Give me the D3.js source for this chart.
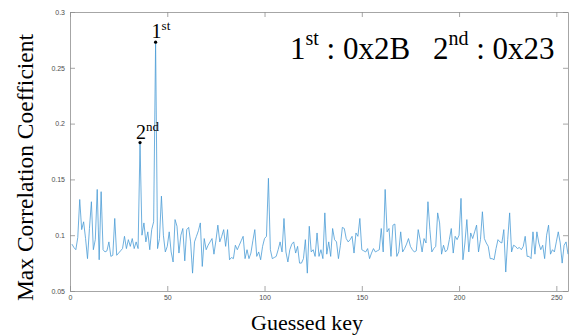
<!DOCTYPE html>
<meta charset="utf-8">

<!-- Load d3.js -->
<script src="https://d3js.org/d3.v7.min.js"></script>

<div id="my_dataviz"></div>

<style>
  body { margin: 0; background: white; }
  .tick text { font-family: "Liberation Sans", Arial, sans-serif; }
  .serif { font-family: "Liberation Serif", "Times New Roman", serif; fill: #000; }
</style>

<script>
  // key guesses 0..255 (plotted MATLAB style at index 1..256)
  var keys = d3.range(0, 256);

  // max correlation coefficient for every guessed key
  var maxCorr = [
    0.092, 0.089, 0.087, 0.098, 0.132, 0.105, 0.112, 0.097, 0.079, 0.106, 0.130, 0.087, 0.096, 0.141, 0.078, 0.139,
    0.087, 0.085, 0.086, 0.094, 0.081, 0.082, 0.115, 0.082, 0.084, 0.086, 0.088, 0.099, 0.088, 0.096, 0.090, 0.097,
    0.088, 0.094, 0.088, 0.183, 0.100, 0.111, 0.094, 0.103, 0.087, 0.105, 0.112, 0.273, 0.088, 0.097, 0.135, 0.100,
    0.085, 0.090, 0.103, 0.085, 0.076, 0.114, 0.108, 0.084, 0.100, 0.106, 0.077, 0.105, 0.107, 0.094, 0.066, 0.094,
    0.099, 0.104, 0.111, 0.072, 0.097, 0.087, 0.091, 0.094, 0.097, 0.083, 0.095, 0.109, 0.094, 0.099, 0.105, 0.090,
    0.105, 0.078, 0.080, 0.079, 0.091, 0.087, 0.091, 0.095, 0.099, 0.079, 0.087, 0.079, 0.084, 0.095, 0.105, 0.081,
    0.085, 0.078, 0.090, 0.097, 0.099, 0.151, 0.087, 0.079, 0.080, 0.081, 0.087, 0.094, 0.085, 0.115, 0.085, 0.076,
    0.087, 0.092, 0.094, 0.084, 0.090, 0.075, 0.075, 0.079, 0.096, 0.066, 0.108, 0.085, 0.087, 0.081, 0.102, 0.081,
    0.087, 0.079, 0.120, 0.083, 0.094, 0.081, 0.106, 0.096, 0.094, 0.079, 0.091, 0.107, 0.106, 0.097, 0.094, 0.096,
    0.099, 0.084, 0.102, 0.099, 0.115, 0.087, 0.086, 0.085, 0.088, 0.079, 0.084, 0.088, 0.085, 0.086, 0.087, 0.106,
    0.085, 0.141, 0.103, 0.106, 0.081, 0.109, 0.110, 0.081, 0.085, 0.103, 0.085, 0.088, 0.092, 0.097, 0.090, 0.087,
    0.085, 0.086, 0.105, 0.096, 0.085, 0.097, 0.093, 0.130, 0.105, 0.085, 0.088, 0.090, 0.120, 0.111, 0.083, 0.091,
    0.085, 0.087, 0.096, 0.106, 0.084, 0.099, 0.096, 0.100, 0.133, 0.078, 0.093, 0.114, 0.085, 0.102, 0.097, 0.103,
    0.109, 0.085, 0.096, 0.121, 0.097, 0.093, 0.090, 0.079, 0.079, 0.078, 0.088, 0.096, 0.094, 0.093, 0.105, 0.067,
    0.096, 0.120, 0.085, 0.091, 0.090, 0.088, 0.089, 0.087, 0.090, 0.099, 0.081, 0.081, 0.079, 0.103, 0.083, 0.103,
    0.093, 0.087, 0.091, 0.079, 0.100, 0.109, 0.083, 0.087, 0.085, 0.094, 0.103, 0.093, 0.075, 0.091, 0.094, 0.083
  ];

  // tick labels
  var xTicks = [0, 50, 100, 150, 200, 250];
  var yTicks = [0.05, 0.1, 0.15, 0.2, 0.25, 0.3];

  // the two best guesses
  var topKeys = [0x2B, 0x23];
  var topNames = ["1", "2"];
  var topSups = ["st", "nd"];

  // Dimensions and margins of graph
  var margin = {top: 12, right: 2, bottom: 44, left: 70},
    width = 570 - margin.left - margin.right,
    height = 335 - margin.top - margin.bottom;

  var svg = d3.select("#my_dataviz")
    .append("svg")
      .attr("width", 570)
      .attr("height", 335)
    .append("g")
      .attr("transform", "translate(" + margin.left + "," + margin.top + ")");

  var x = d3.scaleLinear().domain([0, 256]).range([0, width]);
  var y = d3.scaleLinear().domain([0.05, 0.3]).range([height, 0]);

  // position of a key on the x axis (1-based like the original plot)
  var kx = function(k) { return x(k + 1) };

  var axisColor = "#8f8f8f";

  // axes with inward ticks, box all round
  var gx = svg.append("g")
    .attr("transform", "translate(0," + height + ")")
    .call(d3.axisBottom(x).tickValues(xTicks).tickSizeInner(-5).tickSizeOuter(0).tickPadding(4));
  var gy = svg.append("g")
    .call(d3.axisLeft(y).tickValues(yTicks).tickSizeInner(-5).tickSizeOuter(0).tickPadding(5)
      .tickFormat(function(d) { return d3.format("~g")(d) }));
  var gt = svg.append("g")
    .call(d3.axisTop(x).tickValues(xTicks).tickSizeInner(-5).tickSizeOuter(0).tickFormat(""));
  var gr = svg.append("g")
    .attr("transform", "translate(" + width + ",0)")
    .call(d3.axisRight(y).tickValues(yTicks).tickSizeInner(-5).tickSizeOuter(0).tickFormat(""));

  [gx, gy, gt, gr].forEach(function(g) {
    g.selectAll("path, line").attr("stroke", axisColor).attr("stroke-width", 0.8);
    g.selectAll("text").attr("fill", "#4d4d4d").style("font-size", "7px");
  });

  // the line
  svg.append("path")
    .datum(keys)
    .attr("fill", "none")
    .attr("stroke", "#4a9cd6")
    .attr("stroke-width", 0.8)
    .attr("d", d3.line()
      .x(function(d) { return kx(d) })
      .y(function(d) { return y(maxCorr[d]) })
    );

  // markers on the two best keys
  svg.selectAll("circle.best")
    .data(topKeys)
    .enter()
    .append("circle")
      .attr("class", "best")
      .attr("cx", function(d) { return kx(d) })
      .attr("cy", function(d) { return y(maxCorr[d]) })
      .attr("r", 1.6)
      .attr("fill", "black");

  var labels = svg.selectAll("text.best")
    .data(topKeys)
    .enter()
    .append("text")
      .attr("class", "best serif")
      .attr("x", function(d) { return kx(d) - 4 })
      .attr("y", function(d) { return y(maxCorr[d]) - 4 })
      .style("font-size", "20px");
  labels.append("tspan")
    .text(function(d, i) { return topNames[i] });
  labels.append("tspan")
    .attr("dy", -8)
    .style("font-size", "13px")
    .text(function(d, i) { return topSups[i] });

  // result text top right
  var resX = [220, 363], resY = 47;
  topKeys.forEach(function(k, i) {
    var t = svg.append("text")
      .attr("class", "serif")
      .attr("x", resX[i])
      .attr("y", resY)
      .style("font-size", "31px");
    t.append("tspan").text(topNames[i]);
    t.append("tspan")
      .attr("y", resY - 14)
      .style("font-size", "20px")
      .text(topSups[i]);
    t.append("tspan")
      .attr("y", resY)
      .text(" : 0x" + k.toString(16).toUpperCase());
  });

  // axis titles
  svg.append("text")
    .attr("class", "serif")
    .attr("text-anchor", "middle")
    .attr("x", 237)
    .attr("y", height + 39)
    .style("font-size", "22px")
    .text("Guessed key");

  svg.append("text")
    .attr("class", "serif")
    .attr("text-anchor", "middle")
    .attr("transform", "translate(-37,155.5) rotate(-90)")
    .style("font-size", "23.5px")
    .text("Max Correlation Coefficient");
</script>
